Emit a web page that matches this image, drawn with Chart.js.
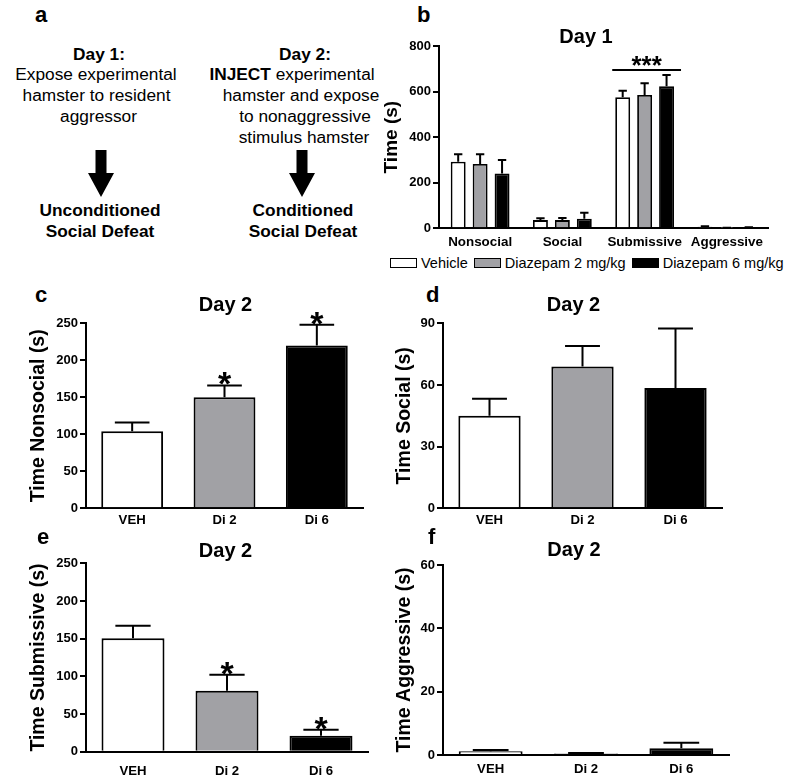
<!DOCTYPE html>
<html>
<head>
<meta charset="utf-8">
<title>Diazepam and social defeat</title>
<script src="https://cdn.jsdelivr.net/npm/chart.js@4.4.1/dist/chart.umd.min.js"></script>
<style>
body{margin:0;width:800px;height:780px;position:relative;overflow:hidden;background:#fff;
font-family:"Liberation Sans",Arial,Helvetica,sans-serif;color:#000}
canvas{position:absolute}
.t{position:absolute;white-space:nowrap;line-height:1;transform:translateX(-50%);font-size:17.3px}
.bold{font-weight:bold}
.letter{position:absolute;font-size:22px;font-weight:bold;line-height:1}
.title{position:absolute;font-size:20px;font-weight:bold;line-height:1;transform:translateX(-50%);white-space:nowrap}
#legendB{position:absolute;left:390px;top:256px;display:flex;align-items:center;font-size:14.5px;white-space:nowrap;line-height:1}
.lgItem{display:flex;align-items:center;margin-right:6px}
.lgBox{width:25px;height:8px;border:1.5px solid #000;margin-right:4px}
</style>
</head>
<body>

<!-- panel a -->
<div class="letter" style="left:35px;top:4.4px">a</div>
<div class="t bold" style="left:99px;top:45.6px">Day 1:</div>
<div class="t" style="left:96px;top:66.4px">Expose experimental</div>
<div class="t" style="left:96.5px;top:87.2px">hamster to resident</div>
<div class="t" style="left:98.5px;top:108px">aggressor</div>
<div class="t bold" style="left:100px;top:202.3px">Unconditioned</div>
<div class="t bold" style="left:100px;top:223.3px">Social Defeat</div>

<div class="t bold" style="left:305px;top:45.6px">Day 2:</div>
<div class="t" style="left:292px;top:66.4px"><b>INJECT</b> experimental</div>
<div class="t" style="left:301px;top:87.2px">hamster and expose</div>
<div class="t" style="left:305px;top:108px">to nonaggressive</div>
<div class="t" style="left:304px;top:128.8px">stimulus hamster</div>
<div class="t bold" style="left:303px;top:202.3px">Conditioned</div>
<div class="t bold" style="left:303px;top:223.3px">Social Defeat</div>

<svg id="arrows" width="400" height="240" style="position:absolute;left:0;top:0"></svg>

<!-- charts -->
<canvas id="chartB" width="420" height="220" style="left:380px;top:30px"></canvas>
<canvas id="chartC" width="380" height="220" style="left:0px;top:310px"></canvas>
<canvas id="chartD" width="400" height="220" style="left:390px;top:310px"></canvas>
<canvas id="chartE" width="380" height="230" style="left:0px;top:550px"></canvas>
<canvas id="chartF" width="400" height="230" style="left:390px;top:550px"></canvas>

<div id="legendB"></div>

<div class="letter" style="left:417px;top:4.4px">b</div>
<div class="letter" style="left:35px;top:284.4px">c</div>
<div class="letter" style="left:426px;top:284.4px">d</div>
<div class="letter" style="left:37px;top:526.4px">e</div>
<div class="letter" style="left:428px;top:526.4px">f</div>

<div class="title" style="left:586px;top:26.2px">Day 1</div>
<div class="title" style="left:225.5px;top:293.7px">Day 2</div>
<div class="title" style="left:573.5px;top:294.2px">Day 2</div>
<div class="title" style="left:225.5px;top:540.2px">Day 2</div>
<div class="title" style="left:574px;top:538.7px">Day 2</div>

<script>
Chart.defaults.font.family = '"Liberation Sans", Arial, Helvetica, sans-serif';
Chart.defaults.color = "#000";

// Day 1 (panel b)
const day1Categories = ["Nonsocial", "Social", "Submissive", "Aggressive"];
const day1Ticks = [0, 200, 400, 600, 800];
const vehicleDay1 = [292, 36, 575, 7];
const vehicleDay1Sem = [33, 8, 29, 2];
const dz2Day1 = [282, 36, 585, 1];
const dz2Day1Sem = [43, 9, 51, 1];
const dz6Day1 = [241, 42, 623, 4];
const dz6Day1Sem = [59, 26, 50, 1];
const day1Sig = ["", "", "***", ""];
const seriesNames = ["Vehicle", "Diazepam 2 mg/kg", "Diazepam 6 mg/kg"];
const seriesColors = ["#ffffff", "#a1a1a5", "#000000"];

// Day 2 (panels c-f)
const day2Groups = ["VEH", "Di 2", "Di 6"];
const nonsocialDay2 = [104, 150, 220];
const nonsocialDay2Sem = [12, 16, 28];
const nonsocialSig = ["", "*", "*"];
const nonsocialTicks = [0, 50, 100, 150, 200, 250];
const socialDay2 = [45, 69, 58.5];
const socialDay2Sem = [8.3, 10, 29];
const socialSig = ["", "", ""];
const socialTicks = [0, 30, 60, 90];
const submissiveDay2 = [150.5, 81, 21];
const submissiveDay2Sem = [16.5, 21, 8];
const submissiveSig = ["", "*", "*"];
const submissiveTicks = [0, 50, 100, 150, 200, 250];
const aggressiveDay2 = [1.2, 0.5, 2.1];
const aggressiveDay2Sem = [0.4, 0.1, 1.8];
const aggressiveSig = ["", "", ""];
const aggressiveTicks = [0, 20, 40, 60];

// arrows in panel a
const svg = document.getElementById("arrows");
[101, 302].forEach(cx => {
  const p = document.createElementNS("http://www.w3.org/2000/svg", "polygon");
  p.setAttribute("points",
    (cx-5.5)+",150 "+(cx+5.5)+",150 "+(cx+5.5)+",173 "+(cx+13)+",173 "+
    cx+",197 "+(cx-13)+",173 "+(cx-5.5)+",173");
  p.setAttribute("fill", "#000");
  svg.appendChild(p);
});

// upper error whiskers + single stars
const errorBars = {
  id: "errorBars",
  afterDatasetsDraw(chart) {
    const ctx = chart.ctx, y = chart.scales.y;
    ctx.save();
    ctx.strokeStyle = "#000";
    ctx.fillStyle = "#000";
    ctx.lineWidth = 2;
    chart.data.datasets.forEach((ds, i) => {
      chart.getDatasetMeta(i).data.forEach((bar, j) => {
        const cap = y.getPixelForValue(ds.data[j] + ds.sem[j]);
        const half = bar.width * 0.28;
        ctx.beginPath();
        ctx.moveTo(bar.x, bar.y);
        ctx.lineTo(bar.x, cap);
        ctx.moveTo(bar.x - half, cap);
        ctx.lineTo(bar.x + half, cap);
        ctx.stroke();
        if (ds.sig && ds.sig[j]) {
          ctx.font = "bold 34px 'Liberation Sans', Arial";
          ctx.textAlign = "center";
          ctx.textBaseline = "alphabetic";
          ctx.fillText(ds.sig[j], bar.x, cap + 10);
        }
      });
    });
    ctx.restore();
  }
};

// bracket over a whole category (panel b)
const groupSig = {
  id: "groupSig",
  afterDatasetsDraw(chart, args, opts) {
    const ctx = chart.ctx, y = chart.scales.y;
    (opts.marks || []).forEach((mark, j) => {
      if (!mark) return;
      let left = Infinity, right = -Infinity, top = Infinity;
      chart.data.datasets.forEach((ds, i) => {
        const bar = chart.getDatasetMeta(i).data[j];
        left = Math.min(left, bar.x - bar.width / 2);
        right = Math.max(right, bar.x + bar.width / 2);
        top = Math.min(top, y.getPixelForValue(ds.data[j] + ds.sem[j]));
      });
      const lineY = top - 5;
      ctx.save();
      ctx.strokeStyle = "#000";
      ctx.lineWidth = 2;
      ctx.beginPath();
      ctx.moveTo(left - 3, lineY);
      ctx.lineTo(right + 7, lineY);
      ctx.stroke();
      ctx.fillStyle = "#000";
      ctx.font = "bold 26px 'Liberation Sans', Arial";
      ctx.textAlign = "center";
      ctx.textBaseline = "alphabetic";
      ctx.fillText(mark, (left + right) / 2 + 2, lineY + 4);
      ctx.restore();
    });
  }
};

function axisY(ticks, title, width, titlePad, titleSize) {
  return {
    min: ticks[0],
    max: ticks[ticks.length - 1],
    afterBuildTicks: s => { s.ticks = ticks.map(v => ({value: v})); },
    ticks: {color: "#000", font: {size: 13, weight: "bold"}, padding: 2},
    grid: {display: true, drawOnChartArea: false, color: "#000", lineWidth: 2, tickLength: 6},
    border: {display: true, color: "#000", width: 2},
    title: {display: true, text: title, color: "#000",
      font: {size: titleSize, weight: "bold", lineHeight: 1},
      padding: {top: titlePad, bottom: 0}},
    afterFit: s => { s.width = width; }
  };
}

function axisX(height, pad, size) {
  return {
    grid: {display: false, drawTicks: false},
    border: {display: true, color: "#000", width: 2},
    ticks: {color: "#000", font: {size: size, weight: "bold"}, padding: pad,
      maxRotation: 0, autoSkip: false},
    afterFit: s => { s.height = height; }
  };
}

// panel b
const day1Series = [vehicleDay1, dz2Day1, dz6Day1];
const day1Sems = [vehicleDay1Sem, dz2Day1Sem, dz6Day1Sem];
const chartB = new Chart(document.getElementById("chartB"), {
  type: "bar",
  data: {
    labels: day1Categories,
    datasets: seriesNames.map((name, i) => ({
      label: name,
      data: day1Series[i],
      sem: day1Sems[i],
      backgroundColor: seriesColors[i],
      borderColor: "#000",
      borderWidth: 1.8,
      barPercentage: 0.68,
      categoryPercentage: 0.8
    }))
  },
  options: {
    responsive: false,
    animation: false,
    layout: {padding: {top: 16, right: 32, left: 0, bottom: 0}},
    plugins: {legend: {display: false}, tooltip: {enabled: false}, groupSig: {marks: day1Sig}},
    scales: {
      x: axisX(21.7, 6, 13.4),
      y: axisY(day1Ticks, "Time (s)", 59, 2.5, 19)
    }
  },
  plugins: [errorBars, groupSig]
});

// html legend built from the chart's datasets
const legendB = document.getElementById("legendB");
chartB.data.datasets.forEach(ds => {
  const item = document.createElement("span");
  item.className = "lgItem";
  const box = document.createElement("span");
  box.className = "lgBox";
  box.style.background = ds.backgroundColor;
  item.appendChild(box);
  item.appendChild(document.createTextNode(ds.label));
  legendB.appendChild(item);
});

// panels c-f
function day2Chart(id, mean, sem, sig, ticks, yTitle, g) {
  return new Chart(document.getElementById(id), {
    type: "bar",
    data: {
      labels: day2Groups,
      datasets: [{
        data: mean,
        sem: sem,
        sig: sig,
        backgroundColor: seriesColors,
        borderColor: "#000",
        borderWidth: 2,
        barPercentage: 0.67,
        categoryPercentage: 1
      }]
    },
    options: {
      responsive: false,
      animation: false,
      layout: {padding: {top: g.top, right: g.right, left: 0, bottom: 0}},
      plugins: {legend: {display: false}, tooltip: {enabled: false}},
      scales: {
        x: axisX(g.xh, g.xpad, 13.2),
        y: axisY(ticks, yTitle, g.yw, g.tpad, 19.5)
      }
    },
    plugins: [errorBars]
  });
}

day2Chart("chartC", nonsocialDay2, nonsocialDay2Sem, nonsocialSig, nonsocialTicks,
  "Time Nonsocial (s)", {top: 13.3, right: 17, xh: 21.7, xpad: 4, yw: 86, tpad: 29.25});
day2Chart("chartD", socialDay2, socialDay2Sem, socialSig, socialTicks,
  "Time Social (s)", {top: 13.3, right: 68, xh: 21.7, xpad: 4, yw: 53, tpad: 5.25});
day2Chart("chartE", submissiveDay2, submissiveDay2Sem, submissiveSig, submissiveTicks,
  "Time Submissive (s)", {top: 13.3, right: 12, xh: 28.3, xpad: 12, yw: 86, tpad: 29.25});
day2Chart("chartF", aggressiveDay2, aggressiveDay2Sem, aggressiveSig, aggressiveTicks,
  "Time Aggressive (s)", {top: 15, right: 61, xh: 25, xpad: 6, yw: 53, tpad: 5.25});
</script>
</body>
</html>
